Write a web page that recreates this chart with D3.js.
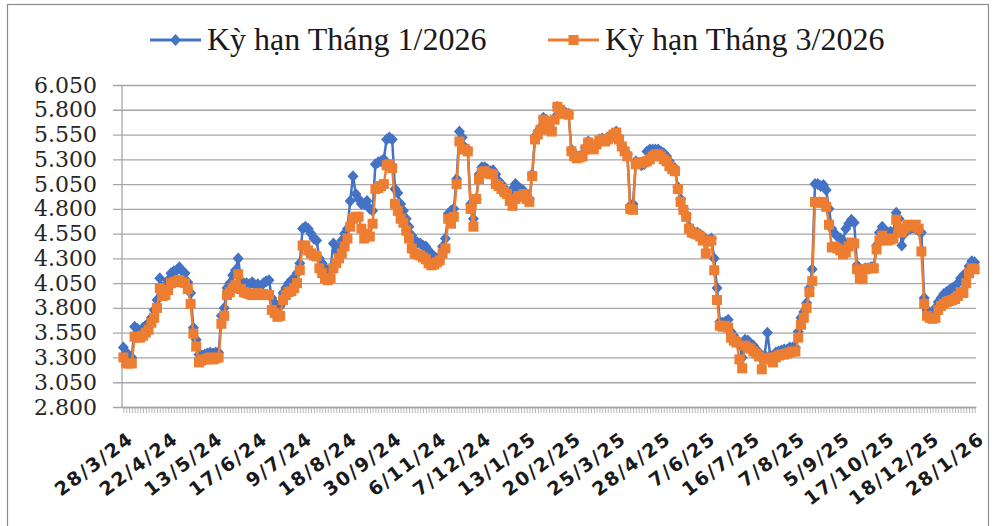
<!DOCTYPE html>
<html lang="vi">
<head>
<meta charset="UTF-8">
<title>Kỳ hạn Tháng 1/2026 và Tháng 3/2026</title>
<script src="https://d3js.org/d3.v7.min.js"></script>
<style>
  body { margin: 0; background: #fff; }
  svg { display: block; }
  .grid line { stroke: #a6a6a6; stroke-width: 1.3; }
  .grid path { display: none; }
  .yaxis text { font-family: "DejaVu Serif", serif; font-size: 22px; fill: #262626; }
  .xlabels text { font-family: "DejaVu Sans", sans-serif; font-weight: bold; font-size: 19px; letter-spacing: 1.8px; fill: #1a1a1a; }
  .legend text { font-family: "Liberation Serif", serif; font-size: 32px; fill: #1a1a1a; }
</style>
</head>
<body>
<svg id="chart" width="1001" height="526"></svg>
<script>
// nhãn trục ngang (mỗi 16 phiên)
const tickLabels = ["28/3/24", "22/4/24", "13/5/24", "17/6/24", "9/7/24", "18/8/24", "30/9/24",
  "6/11/24", "7/12/24", "13/1/25", "20/2/25", "25/3/25", "28/4/25", "7/6/25", "16/7/25",
  "7/8/25", "5/9/25", "17/10/25", "18/12/25", "28/1/26"];
const labelStep = 16;

const seriesNames = ["Kỳ hạn Tháng 1/2026", "Kỳ hạn Tháng 3/2026"];

const kyHanT1 = [
  3400,3350,3320,3300,3610,3590,3570,3600,3620,3650,
  3700,3780,3880,4100,4000,4030,4080,4150,4170,4180,
  4210,4170,4150,4060,3950,3600,3480,3330,3320,3330,
  3340,3350,3340,3350,3350,3720,3800,4000,4050,4130,
  4180,4300,4070,4050,4050,4040,4060,4030,4040,4020,
  4050,4070,4080,3900,3850,3800,3820,3950,4000,4050,
  4080,4100,4150,4250,4600,4620,4600,4550,4500,4480,
  4300,4250,4200,4180,4200,4450,4380,4400,4480,4550,
  4600,4880,5130,4950,4900,4850,4850,4880,4800,4780,
  5250,5270,5280,5300,5500,5520,5500,5000,4960,4850,
  4780,4700,4620,4530,4480,4460,4450,4430,4420,4380,
  4340,4320,4300,4300,4420,4500,4750,4780,4800,5100,
  5580,5520,5420,5400,4850,4700,4900,5150,5220,5220,
  5200,5180,5190,5150,5080,5050,5000,4980,4950,5000,
  5050,5020,5000,4980,4940,4900,5150,5530,5580,5620,
  5720,5700,5620,5600,5720,5830,5800,5770,5770,5760,
  5400,5350,5330,5330,5350,5420,5480,5440,5430,5460,
  5500,5510,5500,5520,5530,5550,5580,5520,5440,5390,
  5350,4830,4850,5280,5260,5240,5250,5380,5400,5400,
  5400,5400,5380,5360,5330,5280,5230,5210,5020,4900,
  4800,4740,4620,4580,4560,4560,4540,4520,4490,4480,
  4500,4300,4000,3660,3650,3660,3680,3560,3520,3480,
  3440,3300,3480,3470,3440,3420,3380,3350,3300,3320,
  3550,3320,3300,3350,3360,3370,3380,3380,3400,3400,
  3400,3560,3700,3760,3850,4000,4190,5050,5050,5030,
  5040,4990,4800,4600,4550,4520,4500,4480,4600,4650,
  4690,4660,4230,4190,4180,4200,4200,4210,4220,4430,
  4560,4620,4580,4560,4570,4560,4760,4700,4430,4550,
  4620,4600,4610,4600,4580,4560,3900,3780,3740,3760,
  3800,3860,3900,3940,3960,3980,4000,4010,4050,4100,
  4130,4150,4220,4270,4260
];

const kyHanT3 = [
  3300,3240,3240,3240,3510,3500,3500,3520,3550,3580,
  3650,3700,3800,4000,3920,3930,3980,4050,4060,4070,
  4080,4060,4050,3990,3840,3540,3410,3250,3270,3280,
  3290,3300,3280,3290,3300,3640,3720,3930,3960,4000,
  4030,4140,3990,3960,3950,3940,3930,3940,3950,3930,
  3940,3930,3930,3780,3750,3710,3720,3880,3930,3960,
  3970,4000,4050,4180,4430,4430,4380,4350,4330,4320,
  4200,4150,4100,4080,4100,4200,4250,4300,4350,4420,
  4500,4620,4700,4720,4720,4600,4500,4550,4520,4650,
  5000,5010,5030,5050,5240,5250,5210,4850,4780,4700,
  4660,4580,4500,4400,4350,4340,4330,4310,4290,4250,
  4230,4240,4260,4280,4350,4400,4700,4650,4720,5050,
  5480,5400,5400,5380,4800,4620,4900,5100,5170,5180,
  5160,5150,5150,5050,5030,5000,4970,4950,4880,4830,
  4900,4930,4920,4950,4900,4870,5130,5500,5550,5600,
  5700,5680,5600,5580,5700,5830,5800,5760,5760,5750,
  5380,5330,5310,5320,5330,5400,5470,5420,5400,5450,
  5490,5500,5480,5500,5520,5550,5570,5500,5430,5380,
  5330,4800,4790,5250,5270,5260,5270,5280,5300,5330,
  5350,5350,5330,5300,5280,5230,5200,5180,5000,4870,
  4790,4720,4600,4560,4550,4540,4520,4480,4350,4470,
  4480,4180,3880,3620,3610,3620,3600,3500,3470,3450,
  3280,3190,3420,3400,3390,3360,3340,3310,3180,3280,
  3290,3300,3250,3300,3320,3330,3330,3340,3350,3360,
  3360,3500,3630,3700,3800,3960,4070,4870,4870,4860,
  4870,4820,4640,4410,4420,4400,4380,4340,4360,4420,
  4460,4450,4190,4100,4090,4190,4200,4200,4200,4390,
  4480,4530,4500,4480,4490,4500,4690,4600,4560,4600,
  4640,4620,4630,4640,4600,4370,3840,3720,3700,3690,
  3700,3780,3820,3840,3860,3870,3880,3890,3920,3960,
  3950,4050,4150,4200,4190
];

const yTicks = [2800, 3050, 3300, 3550, 3800, 4050, 4300, 4550, 4800, 5050, 5300, 5550, 5800, 6050];

const colors = ["#4472c4", "#ed7d31"];

const svg = d3.select("#chart");

// khung biểu đồ
svg.append("rect")
  .attr("x", 7.5).attr("y", 4.5)
  .attr("width", 981).attr("height", 530)
  .attr("fill", "none").attr("stroke", "#8c8c8c").attr("stroke-width", 1.2);

const plotLeft = 122, plotRight = 976, plotTop = 85, plotBottom = 407;

const x = d3.scalePoint()
  .domain(d3.range(kyHanT1.length))
  .range([plotLeft, plotRight])
  .padding(0.5);

const y = d3.scaleLinear()
  .domain([2800, 6050])
  .range([plotBottom, plotTop]);

const viFormat = d3.formatLocale({ decimal: ",", thousands: ".", grouping: [3], currency: ["", ""] }).format(",");

// lưới ngang + nhãn trục tung
svg.append("g")
  .attr("class", "grid yaxis")
  .attr("transform", `translate(${plotLeft},0)`)
  .call(d3.axisLeft(y).tickValues(yTicks).tickFormat(viFormat).tickSize(-(plotRight - plotLeft)).tickPadding(25))
  .call(g => g.selectAll(".tick line").attr("x1", -9));

// trục tung
svg.append("line")
  .attr("x1", plotLeft).attr("x2", plotLeft)
  .attr("y1", plotTop).attr("y2", plotBottom)
  .attr("stroke", "#a6a6a6").attr("stroke-width", 1.3);

// vạch chia trục hoành
svg.append("g")
  .attr("transform", `translate(0,${plotBottom})`)
  .call(d3.axisBottom(x).tickValues(x.domain()).tickFormat("").tickSize(6).tickSizeOuter(0))
  .call(g => g.select(".domain").attr("stroke", "#a6a6a6").attr("stroke-width", 1.3))
  .call(g => g.selectAll(".tick line").attr("stroke", "#a6a6a6").attr("stroke-width", 0.8));

// nhãn ngày
svg.append("g")
  .attr("class", "xlabels")
  .selectAll("text")
  .data(tickLabels)
  .join("text")
  .attr("transform", (d, i) => `translate(${x(i * labelStep) + 7.5},${plotBottom + 29}) rotate(-37)`)
  .attr("text-anchor", "end")
  .attr("dy", "0.35em")
  .text(d => d);

const line = d3.line()
  .x((d, i) => x(i))
  .y(d => y(d));

const diamond = "M0,-6L5.5,0L0,6L-5.5,0Z";

[kyHanT1, kyHanT3].forEach((values, k) => {
  svg.append("path")
    .datum(values)
    .attr("fill", "none")
    .attr("stroke", colors[k])
    .attr("stroke-width", 2.5)
    .attr("stroke-linejoin", "round")
    .attr("d", line);

  const marks = svg.append("g").attr("fill", colors[k]);
  if (k === 0) {
    marks.selectAll("path")
      .data(values)
      .join("path")
      .attr("d", diamond)
      .attr("transform", (d, i) => `translate(${x(i)},${y(d)})`);
  } else {
    marks.selectAll("rect")
      .data(values)
      .join("rect")
      .attr("x", (d, i) => x(i) - 5)
      .attr("y", d => y(d) - 5)
      .attr("width", 10)
      .attr("height", 10);
  }
});

// chú giải
const legend = svg.append("g").attr("class", "legend");
const legendX = [150, 548];
seriesNames.forEach((name, k) => {
  const g = legend.append("g").attr("transform", `translate(${legendX[k]},40)`);
  g.append("line")
    .attr("x1", 0).attr("x2", 51)
    .attr("stroke", colors[k]).attr("stroke-width", 3);
  if (k === 0) {
    g.append("path").attr("d", diamond).attr("transform", "translate(25.5,0)").attr("fill", colors[k]);
  } else {
    g.append("rect").attr("x", 20.5).attr("y", -5).attr("width", 10).attr("height", 10).attr("fill", colors[k]);
  }
  g.append("text")
    .attr("x", 57)
    .attr("y", 10)
    .text(name);
});
</script>
</body>
</html>
